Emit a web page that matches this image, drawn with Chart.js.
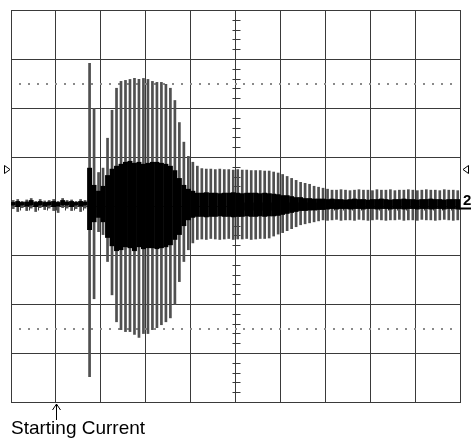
<!DOCTYPE html>
<html>
<head>
<meta charset="utf-8">
<script src="https://cdn.jsdelivr.net/npm/chart.js@4"></script>
<style>
html,body{margin:0;padding:0;background:#fff;}
canvas{display:block;}
</style>
</head>
<body>
<canvas id="c" width="471" height="438"></canvas>
<script>
// Sample times in screen divisions (10 horizontal divisions)
const sampleTimes = [
0.05,0.15,0.25,0.35,0.45,0.55,0.65,0.75,0.85,0.95,
1.05,1.15,1.25,1.35,1.45,1.55,1.65,1.75,1.85,1.95,
2.05,2.15,2.25,2.35,2.45,2.55,2.65,2.75,2.85,2.95,
3.05,3.15,3.25,3.35,3.45,3.55,3.65,3.75,3.85,3.95,
4.05,4.15,4.25,4.35,4.45,4.55,4.65,4.75,4.85,4.95,
5.05,5.15,5.25,5.35,5.45,5.55,5.65,5.75,5.85,5.95,
6.05,6.15,6.25,6.35,6.45,6.55,6.65,6.75,6.85,6.95,
7.05,7.15,7.25,7.35,7.45,7.55,7.65,7.75,7.85,7.95,
8.05,8.15,8.25,8.35,8.45,8.55,8.65,8.75,8.85,8.95,
9.05,9.15,9.25,9.35,9.45,9.55,9.65,9.75,9.85,9.95];

// Peak envelope of the current trace (divisions)
const outerTop = [
0.12,0.14,0.10,0.13,0.16,0.10,0.14,0.11,0.12,0.14,
0.10,0.16,0.12,0.13,0.10,0.14,0.12,2.92,2.00,0.69,
0.78,1.39,1.96,2.41,2.55,2.57,2.59,2.61,2.59,2.61,
2.59,2.55,2.53,2.53,2.49,2.41,2.16,1.71,1.31,1.02,
0.90,0.82,0.77,0.76,0.76,0.75,0.76,0.75,0.75,0.74,
0.75,0.74,0.74,0.73,0.73,0.73,0.72,0.72,0.70,0.68,
0.65,0.61,0.57,0.53,0.49,0.47,0.45,0.41,0.39,0.37,
0.35,0.33,0.33,0.34,0.33,0.32,0.33,0.34,0.33,0.33,
0.32,0.34,0.33,0.33,0.34,0.32,0.33,0.33,0.34,0.33,
0.32,0.33,0.34,0.33,0.33,0.32,0.34,0.33,0.33,0.32];
const outerBottom = [
-0.06,-0.12,-0.04,-0.10,-0.05,-0.12,-0.04,-0.08,-0.05,-0.10,
-0.14,-0.04,-0.05,-0.10,-0.06,-0.12,-0.05,-3.49,-1.90,-0.53,
-0.59,-1.14,-1.82,-2.37,-2.53,-2.57,-2.57,-2.63,-2.69,-2.61,
-2.61,-2.53,-2.49,-2.43,-2.37,-2.29,-2.02,-1.55,-1.14,-0.90,
-0.76,-0.69,-0.68,-0.69,-0.67,-0.68,-0.69,-0.68,-0.67,-0.69,
-0.68,-0.68,-0.67,-0.69,-0.68,-0.67,-0.67,-0.66,-0.62,-0.58,
-0.55,-0.51,-0.47,-0.43,-0.39,-0.37,-0.35,-0.33,-0.31,-0.29,
-0.30,-0.29,-0.28,-0.30,-0.29,-0.29,-0.30,-0.28,-0.29,-0.30,
-0.29,-0.28,-0.29,-0.30,-0.29,-0.29,-0.28,-0.30,-0.29,-0.29,
-0.30,-0.28,-0.29,-0.29,-0.30,-0.29,-0.28,-0.29,-0.30,-0.29];
// Dense core of the trace (divisions)
const innerTop = [
0.08,0.10,0.08,0.09,0.12,0.08,0.10,0.08,0.09,0.10,
0.08,0.12,0.09,0.10,0.08,0.10,0.09,0.78,0.43,0.31,
0.41,0.63,0.76,0.82,0.86,0.90,0.92,0.88,0.90,0.86,
0.88,0.90,0.90,0.88,0.86,0.82,0.73,0.57,0.43,0.35,
0.31,0.27,0.27,0.28,0.27,0.27,0.26,0.27,0.27,0.28,
0.27,0.26,0.27,0.27,0.27,0.26,0.27,0.26,0.25,0.24,
0.22,0.22,0.20,0.18,0.18,0.16,0.16,0.15,0.15,0.15,
0.14,0.15,0.14,0.14,0.13,0.14,0.15,0.14,0.14,0.13,
0.14,0.14,0.15,0.14,0.13,0.14,0.14,0.15,0.14,0.14,
0.13,0.14,0.14,0.15,0.14,0.14,0.13,0.14,0.14,0.14];
const innerBottom = [
0.00,-0.02,0.00,-0.01,0.00,-0.02,0.00,-0.01,0.00,-0.02,
-0.01,0.00,0.00,-0.02,0.00,-0.01,0.00,-0.49,-0.33,-0.24,
-0.33,-0.65,-0.82,-0.92,-0.90,-0.84,-0.86,-0.92,-0.84,-0.88,
-0.86,-0.86,-0.88,-0.86,-0.84,-0.80,-0.69,-0.59,-0.41,-0.29,
-0.24,-0.22,-0.22,-0.23,-0.22,-0.22,-0.21,-0.22,-0.22,-0.23,
-0.22,-0.22,-0.21,-0.22,-0.22,-0.21,-0.22,-0.21,-0.21,-0.20,
-0.18,-0.16,-0.14,-0.12,-0.10,-0.10,-0.09,-0.09,-0.08,-0.08,
-0.07,-0.06,-0.07,-0.06,-0.06,-0.07,-0.06,-0.06,-0.07,-0.06,
-0.06,-0.07,-0.06,-0.06,-0.07,-0.06,-0.06,-0.07,-0.06,-0.06,
-0.07,-0.06,-0.06,-0.07,-0.06,-0.06,-0.07,-0.06,-0.06,-0.07];

const divisionTicksX = [0,1,2,3,4,5,6,7,8,9,10];
const divisionTicksY = [-4,-3,-2,-1,0,1,2,3,4];
const dottedLevels = [2.5, -2.5];
const triggerLevel = 0.76;
const groundLevel = -0.03;
const channelLabel = '2';
const markerTime = 1;
const captionText = 'Starting Current';

const outerData = sampleTimes.map((t, i) => [outerBottom[i], outerTop[i]]);
const innerData = sampleTimes.map((t, i) => [innerBottom[i], innerTop[i]]);

const GRID = '#3a3a3a';

const scopeDecor = {
  id: 'scopeDecor',
  beforeDatasetsDraw(chart) {
    const ctx = chart.ctx, xg = chart.scales.xg, y = chart.scales.y;
    ctx.save();
    ctx.fillStyle = '#8a8a8a';
    dottedLevels.forEach(lvl => {
      const py = Math.round(y.getPixelForValue(lvl));
      for (let k = 1; k < 50; k++) {
        const px = Math.round(xg.getPixelForValue(k * 0.2));
        ctx.fillRect(px - 1, py - 1, 2, 2);
      }
    });
    ctx.strokeStyle = GRID; ctx.lineWidth = 1;
    const cx = Math.round(xg.getPixelForValue(5)) + 0.5;
    const cy = Math.round(y.getPixelForValue(0)) + 0.5;
    ctx.beginPath();
    for (let k = -20; k <= 20; k++) {
      const py = Math.round(y.getPixelForValue(k * 0.2)) + 0.5;
      ctx.moveTo(cx - 4, py); ctx.lineTo(cx + 4, py);
    }
    for (let k = 0; k <= 50; k++) {
      const px = Math.round(xg.getPixelForValue(k * 0.2)) + 0.5;
      ctx.moveTo(px, cy - 4); ctx.lineTo(px, cy + 4);
    }
    ctx.stroke();
    ctx.restore();
  },
  afterDraw(chart) {
    const ctx = chart.ctx, xg = chart.scales.xg, y = chart.scales.y, a = chart.chartArea;
    ctx.save();
    ctx.strokeStyle = '#000'; ctx.lineWidth = 1;
    const ty = Math.round(y.getPixelForValue(triggerLevel)) + 0.5;
    ctx.beginPath();
    ctx.moveTo(4.5, ty - 4); ctx.lineTo(10, ty); ctx.lineTo(4.5, ty + 4); ctx.closePath();
    ctx.moveTo(a.right + 8.5, ty - 4); ctx.lineTo(a.right + 3, ty); ctx.lineTo(a.right + 8.5, ty + 4); ctx.closePath();
    ctx.stroke();
    const gy = Math.round(y.getPixelForValue(groundLevel)) + 0.5;
    ctx.lineWidth = 2;
    ctx.beginPath(); ctx.moveTo(a.right - 1, gy + 1); ctx.lineTo(471, gy + 1); ctx.stroke();
    ctx.fillStyle = '#000';
    ctx.font = 'bold 15px "Liberation Sans", Arial, sans-serif';
    ctx.textBaseline = 'alphabetic'; ctx.textAlign = 'left';
    ctx.fillText(channelLabel, a.right + 3, gy - 3);
    const ax = Math.round(xg.getPixelForValue(markerTime)) + 0.5;
    ctx.lineWidth = 1;
    ctx.beginPath();
    ctx.moveTo(ax, a.bottom + 18); ctx.lineTo(ax, a.bottom + 2);
    ctx.moveTo(ax - 4, a.bottom + 8); ctx.lineTo(ax, a.bottom + 2); ctx.lineTo(ax + 4, a.bottom + 8);
    ctx.stroke();
    ctx.restore();
  }
};

new Chart(document.getElementById('c'), {
  type: 'bar',
  data: {
    labels: sampleTimes,
    datasets: [
      { label: 'peak', data: outerData, backgroundColor: '#505050', borderWidth: 0,
        barPercentage: 0.6, categoryPercentage: 1, grouped: false, order: 2, xAxisID: 'x', yAxisID: 'y' },
      { label: 'core', data: innerData, backgroundColor: '#000', borderWidth: 0,
        barPercentage: 1.1, categoryPercentage: 1, grouped: false, order: 1, xAxisID: 'x', yAxisID: 'y' }
    ]
  },
  options: {
    responsive: false, animation: false, devicePixelRatio: 1,
    layout: { padding: { left: 11, right: 11, top: 10, bottom: 0 } },
    plugins: {
      legend: { display: false }, tooltip: { enabled: false },
      title: { display: true, text: captionText, position: 'bottom', align: 'start', color: '#000',
        font: { family: '"Liberation Sans", Arial, sans-serif', size: 19, weight: 'normal', lineHeight: 1 },
        padding: { top: 17, bottom: 0 } }
    },
    scales: {
      x: { type: 'category', display: false, offset: true },
      xg: { type: 'linear', position: 'bottom', min: 0, max: 10, offset: false,
        afterBuildTicks: s => { s.ticks = divisionTicksX.map(v => ({ value: v })); },
        ticks: { display: false }, grid: { color: GRID, lineWidth: 1, drawTicks: false, offset: false },
        border: { color: GRID } },
      y: { type: 'linear', min: -4, max: 4, offset: false,
        afterBuildTicks: s => { s.ticks = divisionTicksY.map(v => ({ value: v })); },
        ticks: { display: false }, grid: { color: GRID, lineWidth: 1, drawTicks: false, offset: false },
        border: { color: GRID } }
    }
  },
  plugins: [scopeDecor]
});
</script>
</body>
</html>
